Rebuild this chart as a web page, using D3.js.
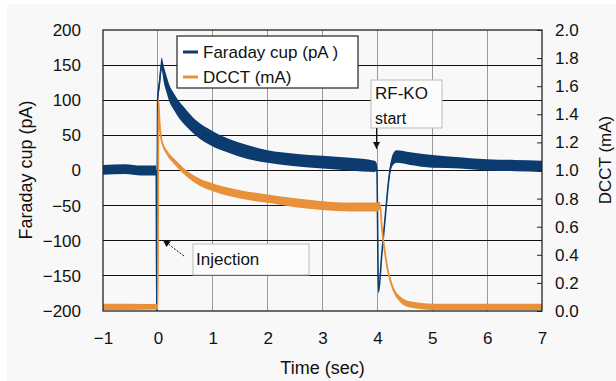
<!DOCTYPE html>
<html><head><meta charset="utf-8">
<script src="https://cdn.jsdelivr.net/npm/d3@7"></script>
<style>html,body{margin:0;padding:0;background:#fff;} svg{display:block;} text{font-family:"Liberation Sans",Arial,sans-serif;fill:#111;}</style>
</head><body><svg id="c" width="616" height="381"></svg>
<script>
// ---- data ----
const xTicks = [-1,0,1,2,3,4,5,6,7];
const leftTicks = [-200,-150,-100,-50,0,50,100,150,200];
const rightTicks = [0,0.2,0.4,0.6,0.8,1.0,1.2,1.4,1.6,1.8,2.0];

// Faraday cup (pA): time, band centre, band half-width (noise)
const fcTime   = [-1, -0.6, -0.3, -0.03, -0.02, -0.005, 0.03, 0.07, 0.1, 0.15, 0.2, 0.3, 0.4, 0.5, 0.7, 1.0, 1.3, 1.6, 2.0, 2.5, 3.0, 3.5, 3.95, 3.99, 4.02, 4.08, 4.15, 4.22, 4.28, 4.35, 4.6, 5.0, 5.5, 6.0, 6.5, 7.0];
const fcValue  = [1, 2, 0, 0, -200, 100, 125, 152, 140, 125, 112, 97, 85, 76, 60, 45, 35, 27, 20, 15, 12, 9, 6, 5, -173, -120, -60, -5, 15, 20, 17, 13, 11, 8, 7, 6];
const fcSpread = [7, 7, 7, 7, 1, 3, 8, 9, 11, 12, 12, 12, 12, 12, 11, 11, 10, 10, 9, 9, 9, 9, 8, 5, 1, 2, 3, 5, 8, 9, 9, 9, 8, 8, 8, 8];

// DCCT (mA): time, band centre, band half-width
const dcTime   = [-1, -0.5, 0.0, 0.01, 0.03, 0.07, 0.16, 0.31, 0.46, 0.77, 1.0, 1.5, 2.0, 2.5, 3.0, 3.5, 4.0, 4.05, 4.08, 4.14, 4.2, 4.25, 4.32, 4.4, 4.5, 4.7, 5.0, 6.0, 7.0];
const dcValue  = [0.03, 0.03, 0.03, 1.5, 1.35, 1.21, 1.13, 1.06, 1.0, 0.915, 0.88, 0.83, 0.80, 0.77, 0.75, 0.74, 0.74, 0.75, 0.6, 0.41, 0.27, 0.2, 0.13, 0.09, 0.06, 0.04, 0.03, 0.03, 0.03];
const dcSpread = [0.022, 0.022, 0.02, 0.005, 0.01, 0.013, 0.017, 0.02, 0.022, 0.026, 0.028, 0.03, 0.03, 0.032, 0.032, 0.032, 0.032, 0.026, 0.018, 0.018, 0.018, 0.018, 0.018, 0.02, 0.022, 0.022, 0.022, 0.022, 0.022];

const legendLabels = ["Faraday cup (pA )", "DCCT (mA)"];
const colors = {fc: "#0c3c6f", dc: "#e8913a"};

// ---- layout ----
const svg = d3.select("#c");
const L = 103, R = 542, T = 30, B = 311;
svg.append("rect").attr("width",616).attr("height",381).attr("fill","#fff");
svg.append("rect").attr("x",7).attr("y",4).attr("width",609).attr("height",377).attr("fill","#f8f8f8");

const x = d3.scaleLinear().domain([-1,7]).range([L,R]);
const yL = d3.scaleLinear().domain([-200,200]).range([B,T]);
const yR = d3.scaleLinear().domain([0,2]).range([B,T]);

// grid
svg.append("g").selectAll("line").data(xTicks.slice(1,-1)).join("line")
  .attr("x1",d=>x(d)).attr("x2",d=>x(d)).attr("y1",T).attr("y2",B)
  .attr("stroke","#999").attr("stroke-width",1).attr("shape-rendering","crispEdges");
svg.append("g").selectAll("line").data(leftTicks.slice(1,-1)).join("line")
  .attr("x1",L).attr("x2",R).attr("y1",d=>yL(d)).attr("y2",d=>yL(d))
  .attr("stroke","#111").attr("stroke-width",1).attr("shape-rendering","crispEdges");

svg.append("defs").append("clipPath").attr("id","clip").append("rect")
  .attr("x",L).attr("y",T).attr("width",R-L).attr("height",B-T);
const plot = svg.append("g").attr("clip-path","url(#clip)");

// Faraday cup band + line
const fc = fcTime.map((t,i)=>({t, v:fcValue[i], s:fcSpread[i]}));
plot.append("path").datum(fc)
  .attr("d", d3.area().x(d=>x(d.t)).y0(d=>yL(d.v-d.s)).y1(d=>yL(d.v+d.s)).curve(d3.curveMonotoneX))
  .attr("fill",colors.fc);
plot.append("path").datum(fc)
  .attr("d", d3.line().x(d=>x(d.t)).y(d=>yL(d.v)).curve(d3.curveMonotoneX))
  .attr("fill","none").attr("stroke",colors.fc).attr("stroke-width",1.6);

// DCCT band + line
const dc = dcTime.map((t,i)=>({t, v:dcValue[i], s:dcSpread[i]}));
plot.append("path").datum(dc)
  .attr("d", d3.area().x(d=>x(d.t)).y0(d=>yR(d.v-d.s)).y1(d=>yR(d.v+d.s)).curve(d3.curveMonotoneX))
  .attr("fill",colors.dc);
plot.append("path").datum(dc)
  .attr("d", d3.line().x(d=>x(d.t)).y(d=>yR(d.v)).curve(d3.curveMonotoneX))
  .attr("fill","none").attr("stroke",colors.dc).attr("stroke-width",1.8);

// plot border
svg.append("rect").attr("x",L).attr("y",T).attr("width",R-L).attr("height",B-T)
  .attr("fill","none").attr("stroke","#222").attr("stroke-width",1.3);

// axes
const fs = "17px";
const ax = svg.append("g").attr("transform",`translate(0,${B})`)
  .call(d3.axisBottom(x).tickValues(xTicks).tickSize(0).tickPadding(21).tickFormat(d=>d<0?"\u2212"+(-d):d));
const ay = svg.append("g").attr("transform",`translate(${L},0)`)
  .call(d3.axisLeft(yL).tickValues(leftTicks).tickSize(0).tickPadding(22).tickFormat(d=>d<0?"\u2212"+(-d):d));
const ar = svg.append("g").attr("transform",`translate(${R},0)`)
  .call(d3.axisRight(yR).tickValues(rightTicks).tickSize(-5).tickPadding(13).tickFormat(d3.format(".1f")));
[ax,ay,ar].forEach(g=>{g.select(".domain").remove(); g.selectAll("text").style("font-size",fs).attr("fill","#111").style("font-family","'Liberation Sans',Arial,sans-serif");});
ar.selectAll(".tick line").attr("stroke","#222");

// axis titles
svg.append("text").attr("x",(L+R)/2).attr("y",374).attr("text-anchor","middle").style("font-size","18px").text("Time (sec)");
svg.append("text").attr("transform","translate(32,170) rotate(-90)").attr("text-anchor","middle").style("font-size","18px").text("Faraday cup (pA)");
svg.append("text").attr("transform","translate(611,160) rotate(-90)").attr("text-anchor","middle").style("font-size","17px").text("DCCT (mA)");

// legend
const lg = svg.append("g");
lg.append("rect").attr("x",177).attr("y",36).attr("width",181).attr("height",52).attr("fill","#fff").attr("stroke","#222").attr("stroke-width",1.2);
[colors.fc, colors.dc].forEach((c,i)=>{
  const yy = 52 + i*25;
  lg.append("line").attr("x1",183).attr("x2",198).attr("y1",yy).attr("y2",yy).attr("stroke",c).attr("stroke-width",3);
  lg.append("text").attr("x",203).attr("y",yy).attr("dy","0.36em").style("font-size","17px").text(legendLabels[i]);
});

// annotations
const defs = svg.select("defs");
defs.append("marker").attr("id","ah").attr("viewBox","0 0 10 10").attr("refX",10).attr("refY",5)
  .attr("markerWidth",7).attr("markerHeight",7).attr("orient","auto-start-reverse")
  .append("path").attr("d","M0,0 L10,5 L0,10 z").attr("fill","#111");

// RF-KO start
svg.append("rect").attr("x",371).attr("y",80).attr("width",71).attr("height",48).attr("fill","#fcfcfc").attr("stroke","#bbb");
svg.append("text").attr("x",375).attr("y",93).attr("dy","0.36em").style("font-size","17px").text("RF-KO");
svg.append("text").attr("x",375).attr("y",118).attr("dy","0.36em").style("font-size","16px").text("start");
svg.append("line").attr("x1",376.5).attr("x2",376.5).attr("y1",128).attr("y2",149)
  .attr("stroke","#111").attr("stroke-width",1).attr("marker-end","url(#ah)");

// Injection
svg.append("rect").attr("x",193).attr("y",244).attr("width",116).attr("height",31).attr("fill","#fcfcfc").attr("stroke","#bbb");
svg.append("text").attr("x",196).attr("y",259).attr("dy","0.36em").style("font-size","17px").text("Injection");
svg.append("line").attr("x1",184).attr("y1",256).attr("x2",163).attr("y2",240)
  .attr("stroke","#111").attr("stroke-width",1).attr("stroke-dasharray","2,1.5").attr("marker-end","url(#ah)");
</script></body></html>
